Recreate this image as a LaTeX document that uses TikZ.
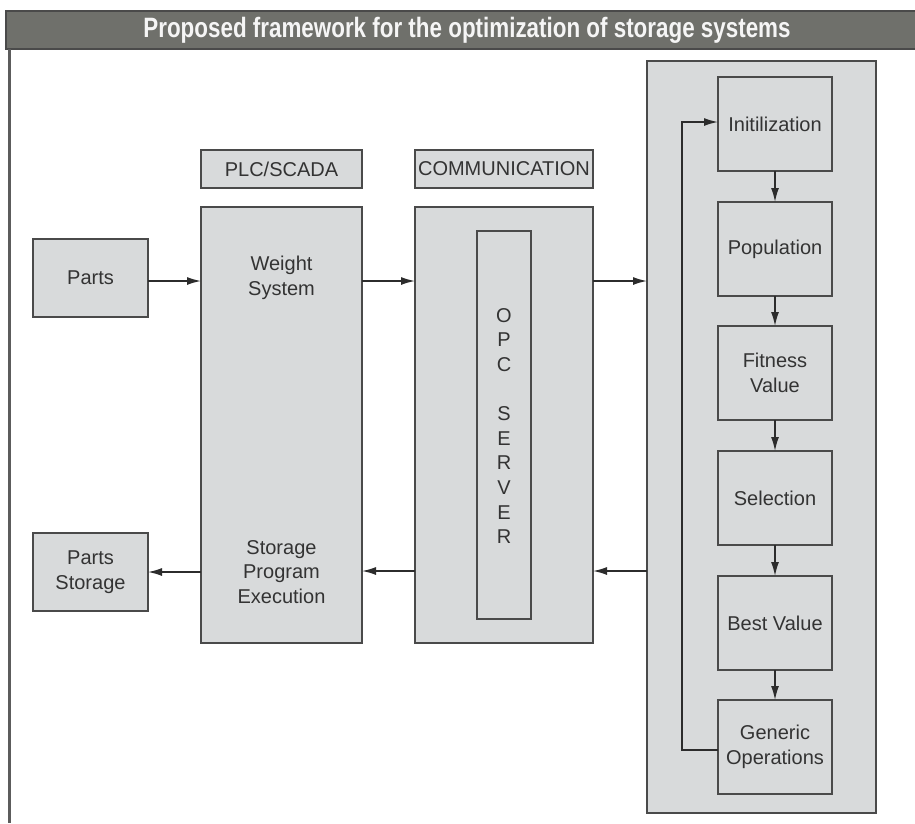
\documentclass[tikz,border=0pt]{standalone}
\usepackage{fontspec}
\setmainfont{Liberation Sans}
\usetikzlibrary{arrows.meta,positioning}
\definecolor{boxfill}{HTML}{D8DADB}
\definecolor{boxline}{HTML}{4A4A4A}
\definecolor{arrline}{HTML}{2C2C2C}
\definecolor{txt}{HTML}{333333}
\definecolor{titlefill}{HTML}{6F706B}
\begin{document}
\begin{tikzpicture}[x=1pt,y=-1pt,
  box/.style={draw=boxline,fill=boxfill,line width=2pt,inner sep=0pt,outer sep=0pt,
    text=txt,align=center,font=\fontsize{20}{24.6}\selectfont},
  lbl/.style={inner sep=0pt,text=txt,align=center,font=\fontsize{20}{24.6}\selectfont},
  arr/.style={draw=arrline,line width=1.5pt,-{Latex[length=14pt,width=8pt]}}]
\useasboundingbox (0,0) rectangle (915,823);
\fill[white] (0,0) rectangle (915,823);
% title bar
\node[draw=boxline,fill=titlefill,line width=2pt,minimum width=912pt,minimum height=38pt,inner sep=0pt,anchor=north west] (title) at (5,10) {};
\node[text=white!96!black,inner sep=0pt] (titletext) at (467,30) {\scalebox{0.8}[1]{\fontsize{28}{30}\selectfont\bfseries Proposed framework for the optimization of storage systems}};
\coordinate (frametop) at (9.5,49);
\coordinate (framebot) at (9.5,823);
\draw[draw=boxline!90,line width=3pt] (frametop) -- (framebot);
% left boxes
\node[box,minimum width=115pt,minimum height=78pt] (parts) at (90.5,278) {Parts};
\node[box,minimum width=115pt,minimum height=78pt] (storage) at (90.5,572) {Parts\\Storage};
% labels
\node[box,minimum width=161pt,minimum height=38pt] (plclabel) at (281.5,169) {PLC/SCADA};
\node[box,minimum width=178pt,minimum height=38pt] (commlabel) at (504,169) {COMMUNICATION};
% big boxes
\node[box,minimum width=161pt,minimum height=436pt] (plc) at (281.5,425) {};
\node[lbl] (weight) at (281.5,278) {Weight\\System};
\node[lbl] (exec) at (281.5,572) {Storage\\Program\\Execution};
\node[box,minimum width=178pt,minimum height=436pt] (comm) at (504,425) {};
\node[box,minimum width=54pt,minimum height=388pt] (opc) at (504,425) {};
\node[lbl] (opctext) at (504,426) {O\\P\\C\\[24.6pt]S\\E\\R\\V\\E\\R};
% right panel
\node[box,minimum width=229pt,minimum height=752pt] (panel) at (761.5,437) {};
\node[box,minimum width=114pt,minimum height=94pt] (init) at (775,124) {Initilization};
\node[box,minimum width=114pt,minimum height=94pt] (pop) at (775,249) {Population};
\node[box,minimum width=114pt,minimum height=94pt] (fit) at (775,373) {Fitness\\Value};
\node[box,minimum width=114pt,minimum height=94pt] (sel) at (775,498) {Selection};
\node[box,minimum width=114pt,minimum height=94pt] (best) at (775,623) {Best Value};
\node[box,minimum width=114pt,minimum height=94pt] (gen) at (775,747) {Generic\\Operations};
% connectors
\draw[arr] ([yshift=-3pt]parts.east) -- ([yshift=-3pt]parts.east -| plc.west);
\coordinate (row1) at (0,281);
\coordinate (row2) at (0,571);
\draw[arr] (plc.east |- row1) -- (comm.west |- row1);
\draw[arr] (comm.east |- row1) -- (panel.west |- row1);
\draw[arr] (panel.west |- row2) -- (comm.east |- row2);
\draw[arr] (comm.west |- row2) -- (plc.east |- row2);
\draw[arr] (plc.west |- storage.east) -- (storage.east);
\draw[arr] (init) -- (pop);
\draw[arr] (pop) -- (fit);
\draw[arr] (fit) -- (sel);
\draw[arr] (sel) -- (best);
\draw[arr] (best) -- (gen);
\coordinate (loopx) at (682,0);
\draw[arr] ([yshift=-3pt]gen.west) -- ([yshift=-3pt]gen.west -| loopx) |- ([yshift=2pt]init.west);
\end{tikzpicture}
\end{document}
